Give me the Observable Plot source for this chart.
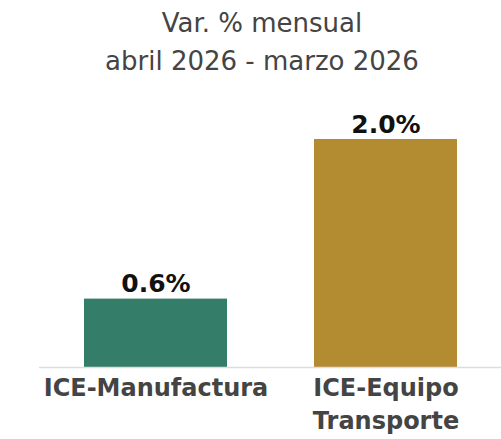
<!DOCTYPE html>
<html><head><meta charset="utf-8">
<script src="https://cdn.jsdelivr.net/npm/d3@7"></script>
<script src="https://cdn.jsdelivr.net/npm/@observablehq/plot@0.6"></script>
<style>
body{margin:0;background:#fff;}
#title{width:501px;height:100px;box-sizing:border-box;padding-top:4px;padding-left:23px;text-align:center;font-family:"DejaVu Sans",sans-serif;font-size:26px;line-height:38px;color:#444;}
</style></head>
<body>
<div id="title">Var. % mensual<br>abril 2026 - marzo 2026</div>
<div id="chart"></div>
<script>
const categories = ["ICE-Manufactura", "ICE-Equipo Transporte"];
const values = [0.6, 2.0];
const colors = ["#347D68", "#B38B31"];
const labels = ["0.6%", "2.0%"];
const data = categories.map((c, i) => ({cat: c, value: values[i], color: colors[i], label: labels[i]}));

const chart = Plot.plot({
  width: 501, height: 339,
  marginLeft: 39, marginRight: 0, marginTop: 39, marginBottom: 72,
  style: {fontFamily: "DejaVu Sans, sans-serif", background: "#fff"},
  x: {domain: categories, paddingInner: 0.38, paddingOuter: 0.192},
  y: {domain: [0, 2], axis: null},
  marks: [
    Plot.barY(data, {x: "cat", y: "value", fill: "color"}),
    Plot.ruleY([0], {stroke: "#ddd", strokeWidth: 1.5}),
    Plot.text(data, {x: "cat", y: "value", text: "label", lineAnchor: "bottom", dy: -7, fontSize: 25, fontWeight: "bold", fill: "#111"}),
    Plot.axisX({tickSize: 0, tickPadding: 5, fontSize: 24, fontWeight: "bold", fill: "#444", lineHeight: 1.375, label: null,
      tickFormat: d => d.replace(" ", "\n")})
  ]
});
document.getElementById("chart").append(chart);
</script>
</body></html>
